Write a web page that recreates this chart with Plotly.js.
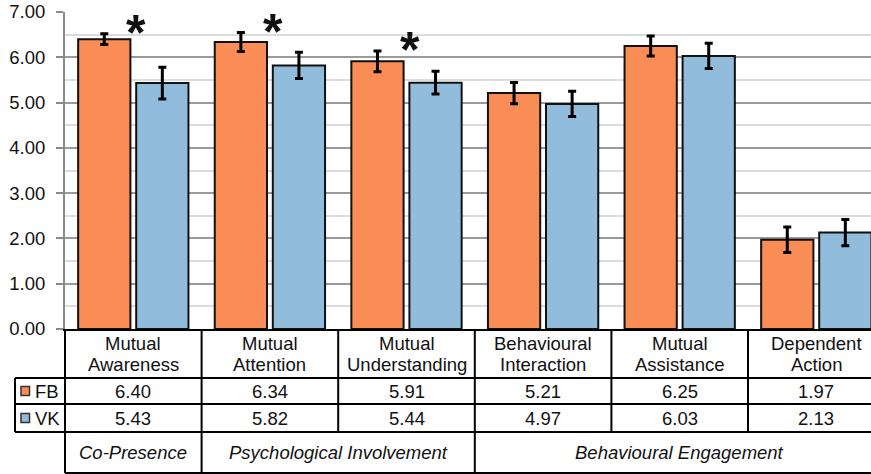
<!DOCTYPE html>
<html>
<head>
<meta charset="utf-8">
<script src="https://cdn.plot.ly/plotly-3.0.1.min.js"></script>
<style>html,body{margin:0;padding:0;background:#fff;}#chart{width:871px;height:474px;}</style>
</head>
<body>
<div id="chart"></div>
<script>
// ---- data ----
const categories = ["Mutual Awareness", "Mutual Attention", "Mutual Understanding", "Behavioural Interaction", "Mutual Assistance", "Dependent Action"];
const seriesNames = ["FB", "VK"];
const fbValues = [6.40, 6.34, 5.91, 5.21, 6.25, 1.97];
const vkValues = [5.43, 5.82, 5.44, 4.97, 6.03, 2.13];
const fbErrors = [0.12, 0.21, 0.23, 0.235, 0.22, 0.28];
const vkErrors = [0.35, 0.29, 0.25, 0.28, 0.28, 0.29];
const significant = [true, true, true, false, false, false];
const groupNames = ["Co-Presence", "Psychological Involvement", "Behavioural Engagement"];
const groupSpans = [[0, 0], [1, 2], [3, 5]];
const yTicks = [0, 1, 2, 3, 4, 5, 6, 7];

// ---- styles / layout constants ----
const colors = ["#FA8C55", "#92BCDB"];
const FONT = "Liberation Sans, Arial, sans-serif";
const TS = 18.5;
const W = 871, H = 474;
const M = {l: 65, r: 0, t: 12, b: 145};
const plotH = H - M.t - M.b;
const plotW = W - M.l - M.r;
const baseY = H - M.b;
const py = p => (baseY - p) / plotH;
const px = p => (p - M.l) / plotW;
const rowTops = [baseY, 378, 404, 432, 473];

const xIdx = categories.map((c, i) => i);

const traces = [
  {type: "bar", name: seriesNames[0], x: xIdx, y: fbValues,
   marker: {color: colors[0], line: {color: "#111", width: 2}},
   error_y: {type: "data", array: fbErrors, visible: true, color: "#000", thickness: 3, width: 4}},
  {type: "bar", name: seriesNames[1], x: xIdx, y: vkValues,
   marker: {color: colors[1], line: {color: "#111", width: 2}},
   error_y: {type: "data", array: vkErrors, visible: true, color: "#000", thickness: 3, width: 4}}
];

const shapes = [];
const annotations = [];
const line = (o) => Object.assign({type: "line", line: {color: "#000", width: 2}, layer: "above"}, o);

shapes.push(line({xref: "paper", yref: "paper", x0: px(15), x1: 1, y0: py(rowTops[1]), y1: py(rowTops[1])}));
shapes.push(line({xref: "paper", yref: "paper", x0: px(15), x1: 1, y0: py(rowTops[2]), y1: py(rowTops[2])}));
shapes.push(line({xref: "paper", yref: "paper", x0: px(15), x1: 1, y0: py(rowTops[3]), y1: py(rowTops[3])}));
shapes.push(line({xref: "paper", yref: "paper", x0: 0, x1: 1, y0: py(rowTops[4]), y1: py(rowTops[4])}));
shapes.push(line({xref: "paper", yref: "paper", x0: 0, x1: 0, y0: 0, y1: py(rowTops[4])}));
shapes.push(line({xref: "paper", yref: "paper", x0: px(15), x1: px(15), y0: py(rowTops[1]), y1: py(rowTops[3])}));
for (let i = 0; i < categories.length - 1; i++) {
  shapes.push(line({xref: "x", yref: "paper", x0: i + 0.5, x1: i + 0.5, y0: 0, y1: py(rowTops[3])}));
}
groupSpans.forEach((s, g) => {
  if (g > 0) shapes.push(line({xref: "x", yref: "paper", x0: s[0] - 0.5, x1: s[0] - 0.5, y0: py(rowTops[3]), y1: py(rowTops[4])}));
});

const txt = (o) => Object.assign({showarrow: false, font: {family: FONT, size: TS, color: "#111"}}, o);

categories.forEach((c, i) => {
  const k = c.indexOf(" ");
  annotations.push(txt({xref: "x", yref: "paper", x: i, y: py(343), yanchor: "middle", text: c.slice(0, k)}));
  annotations.push(txt({xref: "x", yref: "paper", x: i, y: py(364.5), yanchor: "middle", text: c.slice(k + 1)}));
});
[fbValues, vkValues].forEach((vals, r) => {
  const cy = (rowTops[r + 1] + rowTops[r + 2]) / 2;
  vals.forEach((v, i) => {
    annotations.push(txt({xref: "x", yref: "paper", x: i, y: py(cy), yanchor: "middle", text: v.toFixed(2)}));
  });
  annotations.push(txt({xref: "paper", yref: "paper", x: px(33), xanchor: "left", y: py(cy), yanchor: "middle", text: seriesNames[r]}));
  shapes.push({type: "rect", xref: "paper", yref: "paper", x0: px(21), x1: px(29.5), y0: py(cy - 4.5), y1: py(cy + 4.5),
    fillcolor: colors[r], line: {color: "#333", width: 1.5}, layer: "above"});
});
groupNames.forEach((g, k) => {
  const s = groupSpans[k];
  annotations.push(txt({xref: "x", yref: "paper", x: (s[0] + s[1]) / 2, y: py((rowTops[3] + rowTops[4]) / 2), yanchor: "middle",
    text: "<i>" + g + "</i>"}));
});
significant.forEach((sig, i) => {
  if (!sig) return;
  const top = Math.max(fbValues[i] + fbErrors[i], vkValues[i] + vkErrors[i]);
  annotations.push(txt({xref: "x", yref: "y", x: i, xshift: 3, y: top + 0.19, yanchor: "middle", yshift: -8,
    text: "<b>*</b>", font: {family: FONT, size: 50, color: "#111"}}));
});

const layout = {
  width: W, height: H,
  margin: M,
  paper_bgcolor: "#fff", plot_bgcolor: "#fff",
  showlegend: false,
  barmode: "group", bargap: 0.15, bargroupgap: 0.1,
  font: {family: FONT, size: TS, color: "#111"},
  xaxis: {type: "linear", range: [-0.5, -0.5 + plotW / 136.6], showticklabels: false, ticks: "",
          showgrid: false, zeroline: false, showline: true, linecolor: "#000", linewidth: 2, fixedrange: true},
  yaxis: {range: [0, 7], tickvals: yTicks, ticktext: yTicks.map(v => v.toFixed(2)),
          showgrid: true, gridcolor: "#9a9a9a", gridwidth: 2,
          minor: {dtick: 0.5, showgrid: true, gridcolor: "#dcdcdc", gridwidth: 2},
          zeroline: false, showline: true, linecolor: "#8a8a8a", linewidth: 2,
          ticks: "outside", ticklen: 7, tickwidth: 2, tickcolor: "#8a8a8a", ticklabelstandoff: 7,
          tickfont: {family: FONT, size: TS, color: "#111"}, fixedrange: true},
  shapes: shapes,
  annotations: annotations
};

Plotly.newPlot("chart", traces, layout, {displayModeBar: false, staticPlot: true});
</script>
</body>
</html>
